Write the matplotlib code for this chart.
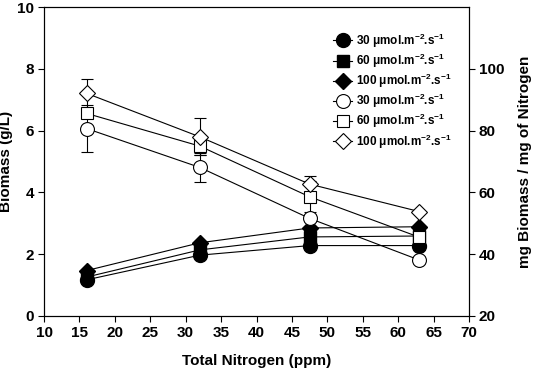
import matplotlib
matplotlib.use("Agg")
import matplotlib.pyplot as plt

plt.rcParams['font.family'] = ['Liberation Sans', 'DejaVu Sans']
plt.rcParams['font.weight'] = 'bold'
plt.rcParams['mathtext.fontset'] = 'custom'
plt.rcParams['mathtext.rm'] = 'Liberation Sans:bold'
plt.rcParams['mathtext.default'] = 'rm'

nitrogen = [16, 32, 47.5, 63]
# Biomass (g/L), left axis
bio_30 = [1.17, 1.97, 2.28, 2.28]
bio_60 = [1.26, 2.14, 2.56, 2.59]
bio_100 = [1.47, 2.37, 2.85, 2.89]
# mg Biomass / mg Nitrogen, right axis
yld_30 = [80.7, 68.1, 51.6, 38.1]
yld_60 = [85.6, 75.0, 58.6, 45.5]
yld_100 = [92.1, 78.0, 62.7, 53.8]
yld_30_err = [7.5, 4.7, 1.0, 0.0]
yld_60_err = [1.5, 3.0, 5.0, 0.0]
yld_100_err = [4.6, 6.0, 2.7, 0.0]

labels = ['30 \u03bcmol.m$^{-2}$.s$^{-1}$',
          '60 \u03bcmol.m$^{-2}$.s$^{-1}$',
          '100 \u03bcmol.m$^{-2}$.s$^{-1}$']

fig = plt.figure(figsize=(5.4, 3.76), dpi=100)
ax = fig.add_axes([0.0815, 0.1596, 0.787, 0.8214])
ax2 = ax.twinx()

lw = 0.8
handles = []
h, = ax.plot(nitrogen, bio_30, '-', color='black', lw=lw, marker='o', ms=10, mfc='black', mec='black', zorder=3)
handles.append(h)
h, = ax.plot(nitrogen, bio_60, '-', color='black', lw=lw, marker='s', ms=9, mfc='black', mec='black', zorder=3)
handles.append(h)
h, = ax.plot(nitrogen, bio_100, '-', color='black', lw=lw, marker='D', ms=8.5, mfc='black', mec='black', zorder=3)
handles.append(h)

for yv, err, mk, ms in [(yld_30, yld_30_err, 'o', 10), (yld_60, yld_60_err, 's', 9), (yld_100, yld_100_err, 'D', 8.5)]:
    ax2.errorbar(nitrogen, yv, yerr=err, fmt='none', ecolor='black', elinewidth=0.8, capsize=4, capthick=0.8, zorder=2)
    h, = ax2.plot(nitrogen, yv, '-', color='black', lw=lw, marker=mk, ms=ms, mfc='white', mec='black', mew=0.8, zorder=3)
    handles.append(h)

ax.set_xlim(10, 70)
ax.set_ylim(0, 10)
ax2.set_ylim(20, 120)
ax.set_xticks(range(10, 71, 5))
ax.set_yticks(range(0, 11, 2))
ax2.set_yticks([20, 40, 60, 80, 100])

ax.tick_params(direction='out', length=4, width=0.8, labelsize=11, pad=3)
ax2.tick_params(direction='out', length=4, width=0.8, labelsize=11, pad=3)
for sp in list(ax.spines.values()) + list(ax2.spines.values()):
    sp.set_linewidth(0.8)

ax.set_xlabel('Total Nitrogen (ppm)', fontsize=11, fontweight='bold', labelpad=10)
ax.set_ylabel('Biomass (g/L)', fontsize=11, fontweight='bold', labelpad=6)
ax2.set_ylabel('mg Biomass / mg of Nitrogen', fontsize=11, fontweight='bold', labelpad=10)
ax.yaxis.set_label_coords(-0.072, 0.5)

ax2.legend(handles, labels * 2, loc='upper right', bbox_to_anchor=(0.97, 0.937), frameon=False,
           fontsize=8.5, handlelength=1.6, handletextpad=0.3, labelspacing=0.17, borderaxespad=0)

fig.savefig('out.png', dpi=100)
